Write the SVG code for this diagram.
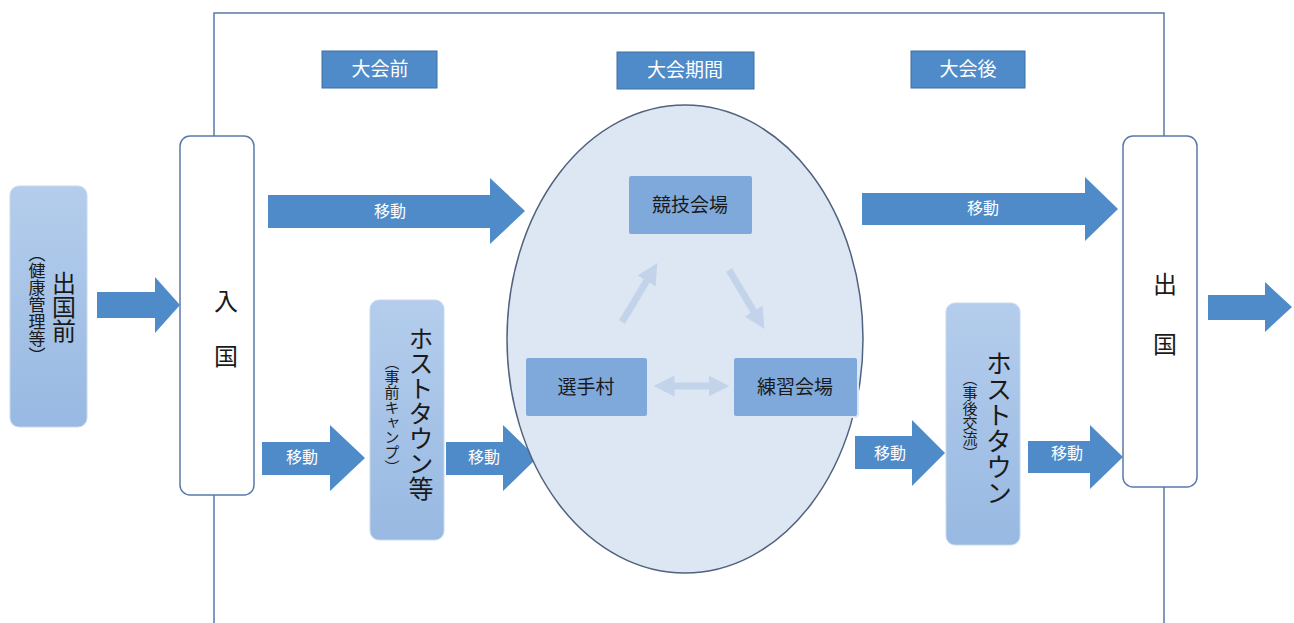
<svg xmlns="http://www.w3.org/2000/svg" width="1294" height="623" viewBox="0 0 1294 623">
<defs>
<linearGradient id="lb" x1="0" y1="0" x2="0" y2="1">
<stop offset="0" stop-color="#b4cdec"/><stop offset="1" stop-color="#98b9e2"/>
</linearGradient>
<marker id="fa" viewBox="0 0 10 10" refX="5" refY="5" markerWidth="3" markerHeight="3" orient="auto-start-reverse"><path d="M0,0 L10,5 L0,10 z" fill="#c3d4ea"/></marker>
</defs>
<style>
text{font-family:"Noto Sans CJK JP","Noto Sans CJK SC",sans-serif}
.arrow{fill:#4f8bc9}
.hdr{fill:#4f8bc9;stroke:#3f6fa0;stroke-width:1}
.hdrt{fill:#fff;font-size:19px;text-anchor:middle}
.mv{fill:#fff;font-size:16px;text-anchor:middle}
.white{fill:#fff;stroke:#5a7aa8;stroke-width:1.5}
.lbox{fill:url(#lb);stroke:#c8d8ee;stroke-width:1}
.inner{fill:#7fa9db;stroke:#dde7f3;stroke-width:2}
.it{fill:#1a1a1a;font-size:19px;text-anchor:middle}
.vt{writing-mode:vertical-rl;text-anchor:middle;fill:#1a1a1a}
.faint{stroke:#c3d4ea;stroke-width:7;fill:none}
</style>
<g id="frame" fill="none" stroke="#5a7aa8" stroke-width="1.5">
<path d="M214,623 V13 H1164 V623"/>
</g>
<g id="headers">
<g id="h1"><rect class="hdr" x="322" y="51" width="115" height="37"/><text class="hdrt" x="380" y="76">大会前</text></g>
<g id="h2"><rect class="hdr" x="617" y="52" width="137" height="37"/><text class="hdrt" x="685" y="77">大会期間</text></g>
<g id="h3"><rect class="hdr" x="911" y="51" width="114" height="37"/><text class="hdrt" x="968" y="76">大会後</text></g>
</g>
<g id="connectors">
<path class="arrow" d="M97,292 H155 V277 L180,305 L155,333 V318 H97 z"/>
<path class="arrow" d="M268,195 H490 V178 L525,211 L490,244 V228 H268 z"/>
<text class="mv" x="390" y="217">移動</text>
<path class="arrow" d="M862,193 H1085 V177 L1118,209 L1085,241 V225 H862 z"/>
<text class="mv" x="983" y="214">移動</text>
<path class="arrow" d="M262,442 H330 V425 L365,458 L330,491 V475 H262 z"/>
<text class="mv" x="302" y="463">移動</text>
<path class="arrow" d="M446,442 H503 V425 L537,458 L503,491 V475 H446 z"/>
<text class="mv" x="484" y="463">移動</text>
<path class="arrow" d="M855,436 H912 V420 L945,453 L912,486 V469 H855 z"/>
<text class="mv" x="890" y="459">移動</text>
<path class="arrow" d="M1028,441 H1090 V425 L1123,457 L1090,489 V473 H1028 z"/>
<text class="mv" x="1067" y="459">移動</text>
<path class="arrow" d="M1208,295 H1265 V282 L1292,307 L1265,332 V320 H1208 z"/>
</g>
<g id="shukkokumae">
<rect class="lbox" x="10" y="186" width="77" height="241" rx="9"/>
<text class="vt" x="64" y="307" font-size="24">出国前</text>
<text class="vt" x="37" y="305" font-size="17">（健康管理等）</text>
</g>
<g id="nyukoku">
<rect class="white" x="180" y="136" width="74" height="359" rx="10"/>
<text x="226" y="310" font-size="24" text-anchor="middle" fill="#1a1a1a">入</text>
<text x="226" y="365" font-size="24" text-anchor="middle" fill="#1a1a1a">国</text>
</g>
<g id="hosttown1">
<rect class="lbox" x="370" y="300" width="74" height="240" rx="9"/>
<text class="vt" x="421" y="413" font-size="25">ホストタウン等</text>
<text class="vt" x="392" y="415" font-size="15">（事前キャンプ）</text>
</g>
<g id="games">
<ellipse cx="685" cy="339" rx="178" ry="234" fill="#dde7f3" stroke="#50627e" stroke-width="1.5"/>
<g id="faint-arrows">
<line class="faint" x1="622" y1="322" x2="652" y2="272" marker-end="url(#fa)"/>
<line class="faint" x1="729" y1="270" x2="759" y2="320" marker-end="url(#fa)"/>
<line class="faint" x1="664" y1="386" x2="719" y2="386" marker-start="url(#fa)" marker-end="url(#fa)"/>
</g>
<g id="kyogi"><rect class="inner" x="628" y="175" width="125" height="60" rx="3"/><text class="it" x="690" y="212">競技会場</text></g>
<g id="senshu"><rect class="inner" x="525" y="357" width="123" height="60" rx="3"/><text class="it" x="586" y="394">選手村</text></g>
<g id="renshu"><rect class="inner" x="733" y="357" width="125" height="60" rx="3"/><text class="it" x="795" y="394">練習会場</text></g>
</g>
<g id="hosttown2">
<rect class="lbox" x="946" y="303" width="74" height="242" rx="9"/>
<text class="vt" x="999" y="428" font-size="26">ホストタウン</text>
<text class="vt" x="970" y="416" font-size="15">（事後交流）</text>
</g>
<g id="shukkoku">
<rect class="white" x="1123" y="136" width="74" height="351" rx="10"/>
<text x="1165" y="293" font-size="24" text-anchor="middle" fill="#1a1a1a">出</text>
<text x="1165" y="353" font-size="24" text-anchor="middle" fill="#1a1a1a">国</text>
</g>
</svg>
